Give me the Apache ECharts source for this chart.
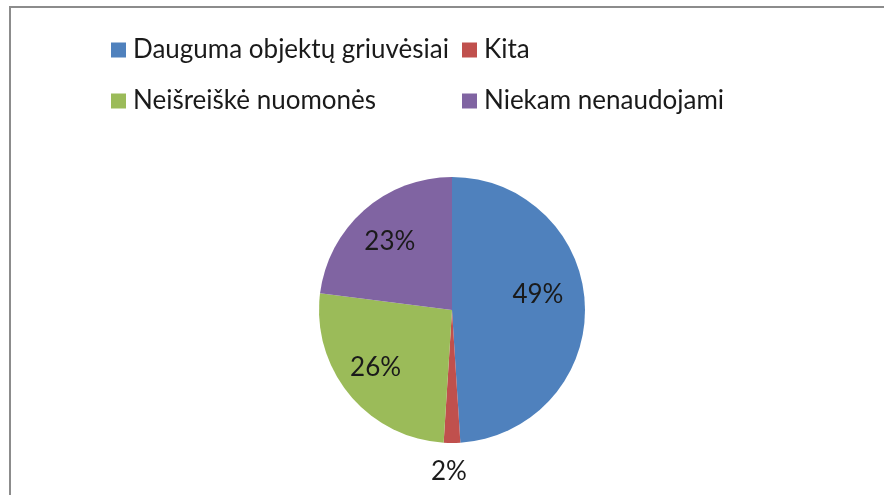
<!DOCTYPE html>
<html>
<head>
<meta charset="utf-8">
<script src="https://cdn.jsdelivr.net/npm/echarts@6/dist/echarts.min.js"></script>
<style>
html,body{margin:0;padding:0;background:#fff;}
#chart{position:absolute;left:0;top:0;width:884px;height:495px;}
#frame{position:absolute;left:9px;top:6px;width:900px;height:520px;border-left:2px solid #8c8c8c;border-top:2px solid #8c8c8c;pointer-events:none;}
</style>
</head>
<body>
<div id="chart"></div>
<div id="frame"></div>
<script>
const categories = ['Dauguma objektų griuvėsiai', 'Kita', 'Neišreiškė nuomonės', 'Niekam nenaudojami'];
const values = [49, 2, 26, 23];
const colors = ['#4F81BD', '#C0504D', '#9BBB59', '#8064A2'];

const FONT = 'Lato';
const chart = echarts.init(document.getElementById('chart'), null, {renderer: 'canvas'});

const legendPos = [
  {left: 111, top: 37},
  {left: 462, top: 37},
  {left: 111, top: 88},
  {left: 462, top: 88}
];
const legends = categories.map((name, i) => ({
  data: [name],
  left: legendPos[i].left,
  top: legendPos[i].top,
  padding: 0,
  itemWidth: 15,
  itemHeight: 15,
  icon: 'rect',
  selectedMode: false,
  textStyle: {fontFamily: FONT, fontSize: 26, color: '#1a1a1a', lineHeight: 26, padding: [0, 0, 0, 2]}
}));

const center = [452, 310];
const labelOffsets = [[-8, -12], [-3, 0], [-4, -2], [0, 2]];
const mainData = categories.map((n, i) => ({
  name: n, value: values[i], itemStyle: {color: colors[i]}
}));
const labelFor = (show, i) => ({
  show: show, position: 'inside', fontFamily: FONT, fontSize: 26, color: '#1a1a1a',
  formatter: '{d}%', offset: labelOffsets[i]
});

chart.setOption({
  animation: false,
  legend: legends,
  series: [
    {
      type: 'pie', center: center, radius: [0, 133], startAngle: 90, clockwise: true,
      data: mainData, label: {show: false}, labelLine: {show: false},
      itemStyle: {borderWidth: 0}, emphasis: {disabled: true}, silent: true
    },
    {
      type: 'pie', center: center, radius: [0, 182], startAngle: 90, clockwise: true,
      data: categories.map((n, i) => ({
        name: n, value: values[i], itemStyle: {color: 'rgba(0,0,0,0)'},
        label: labelFor(i !== 1, i)
      })),
      labelLine: {show: false}, emphasis: {disabled: true}, silent: true, z: 5,
      itemStyle: {borderWidth: 0}
    },
    {
      type: 'pie', center: center, radius: [0, 318], startAngle: 90, clockwise: true,
      data: categories.map((n, i) => ({
        name: n, value: values[i], itemStyle: {color: 'rgba(0,0,0,0)'},
        label: labelFor(i === 1, i)
      })),
      labelLine: {show: false}, emphasis: {disabled: true}, silent: true, z: 5,
      itemStyle: {borderWidth: 0}
    }
  ]
});
</script>
</body>
</html>
